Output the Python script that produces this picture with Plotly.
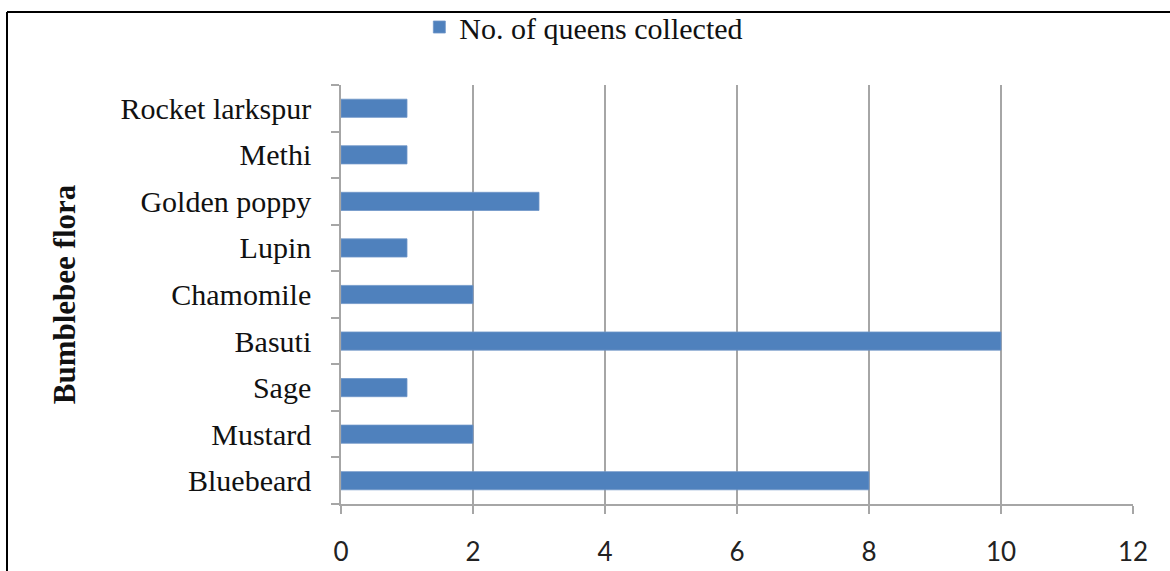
import plotly.graph_objects as go

categories = ["Bluebeard", "Mustard", "Sage", "Basuti", "Chamomile",
              "Lupin", "Golden poppy", "Methi", "Rocket larkspur"]
queens = [8, 2, 1, 10, 2, 1, 3, 1, 1]
x_ticks = [0, 2, 4, 6, 8, 10, 12]
series_name = "No. of queens collected"
y_title = "Bumblebee flora"

W, H = 1170, 571
L, R, T, B = 341, 37, 85, 67

fig = go.Figure()
fig.add_trace(go.Bar(
    y=categories, x=queens, orientation="h", name=series_name,
    marker=dict(color="#4F81BD", line=dict(color="#6E96C8", width=0.8)),
    showlegend=True,
))

serif = "Liberation Serif, Times New Roman, serif"
pw = W - L - R
ph = H - T - B

fig.update_layout(
    width=W, height=H,
    margin=dict(l=L, r=R, t=T, b=B, autoexpand=False),
    plot_bgcolor="white", paper_bgcolor="white",
    bargap=0.61,
    showlegend=True,
    legend=dict(
        orientation="h", xref="container", yref="container",
        x=0.499, xanchor="center", y=1 - 27 / H, yanchor="middle",
        font=dict(family=serif, size=30, color="#111111"),
        bgcolor="rgba(0,0,0,0)",
        itemwidth=30,
    ),
    xaxis=dict(
        range=[0, 12], tickvals=x_ticks, ticktext=[str(v) for v in x_ticks],
        showgrid=True, gridcolor="#A6A6A6", gridwidth=1.5,
        showline=True, linecolor="#A6A6A6", linewidth=1.5,
        ticks="outside", ticklen=8, tickcolor="#A6A6A6", tickwidth=1.5,
        tickfont=dict(family="Lato, Open Sans, sans-serif", size=26, color="#222222"),
        ticklabelstandoff=16,
        zeroline=False, fixedrange=True,
    ),
    yaxis=dict(
        categoryorder="array", categoryarray=categories,
        range=[-0.5, 8.5],
        showgrid=False,
        showline=True, linecolor="#A6A6A6", linewidth=1.5,
        ticks="outside", ticklen=8, tickcolor="#A6A6A6", tickwidth=1.5,
        tickson="boundaries",
        tickfont=dict(family=serif, size=30, color="#111111"),
        ticklabelstandoff=22,
        title=dict(text="<b>" + y_title + "</b>",
                   font=dict(family=serif, size=31, color="#111111"),
                   standoff=36),
        fixedrange=True,
    ),
    shapes=[
        dict(type="line", xref="paper", yref="paper",
             x0=(7 - L) / pw, x1=(W + 5 - L) / pw,
             y0=(H - B - 12) / ph, y1=(H - B - 12) / ph,
             line=dict(color="#000000", width=2)),
        dict(type="line", xref="paper", yref="paper",
             x0=(7 - L) / pw, x1=(7 - L) / pw,
             y0=(H - B - 12) / ph, y1=-(B + 5) / ph,
             line=dict(color="#000000", width=2)),
    ],
)

fig.write_html("out.html")
